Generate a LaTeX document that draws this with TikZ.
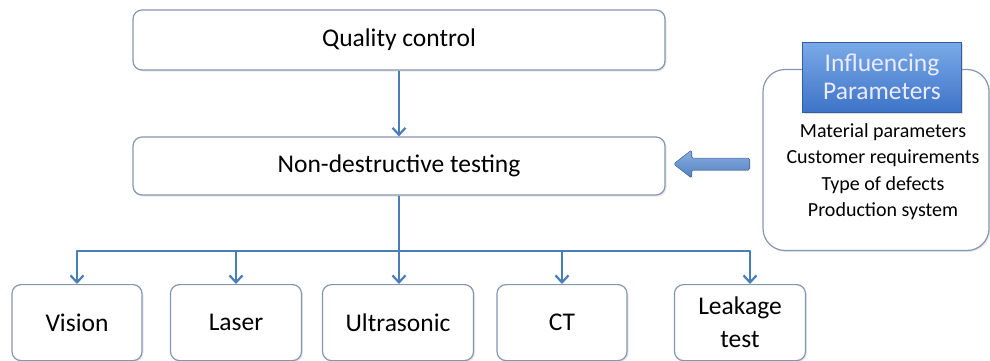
\documentclass[tikz,border=0pt]{standalone}
\usepackage{fontspec}
\setmainfont{Carlito}
\usetikzlibrary{arrows.meta,shadows}
\definecolor{linkblue}{HTML}{4A7EBB}
\definecolor{boxedge}{HTML}{8497B0}
\definecolor{headtop}{HTML}{7BAAE8}
\definecolor{headbot}{HTML}{3D74C8}
\definecolor{arrowblue}{HTML}{5A8ED6}
\begin{document}
\begin{tikzpicture}[x=1pt,y=-1pt,
  box/.style={draw=boxedge,line width=1.2pt,rounded corners=9pt,fill=white,
    drop shadow={opacity=0.18,shadow xshift=1.5pt,shadow yshift=-1.5pt},
    font=\fontsize{25.5}{33}\selectfont,align=center,inner sep=0pt},
  link/.style={draw=linkblue,line width=2.2pt,-{Straight Barb[length=7pt,width=13pt]}},
  bus/.style={draw=linkblue,line width=2.2pt}]
\useasboundingbox (0,0) rectangle (990,360);

% main chain
\node[box,minimum width=532pt,minimum height=60pt] (qc) at (399,40) {Quality control};
\node[box,minimum width=532pt,minimum height=58pt] (ndt) at (399,166) {Non-destructive testing};

% testing methods
\node[box,minimum width=130pt,minimum height=76pt,anchor=north] (vis) at (77,284) {Vision};
\node[box,minimum width=131pt,minimum height=76pt,anchor=north] (las) at (236,284) {Laser};
\node[box,minimum width=151pt,minimum height=76pt,anchor=north] (ult) at (398,284) {Ultrasonic};
\node[box,minimum width=130pt,minimum height=76pt,anchor=north] (ct) at (562,284) {CT};
\node[box,minimum width=131pt,minimum height=76pt,anchor=north] (lea) at (740,284) {Leakage\\test};

% influencing parameters panel
\node[box,minimum width=226pt,minimum height=181pt,rounded corners=22pt] (par) at (876,160) {};
\node[draw=headbot!80!black,line width=0.6pt,top color=headtop,bottom color=headbot,
  drop shadow={opacity=0.25,shadow xshift=1.5pt,shadow yshift=-1.5pt},
  text=white!92!blue,font=\fontsize{25.5}{28}\selectfont,align=center,
  minimum width=159pt,minimum height=70pt,inner sep=0pt] (head) at (882,77)
  {Influencing\\Parameters};
\node[font=\fontsize{20}{26.5}\selectfont,align=center,anchor=north] (plist) at (883,120)
  {Material parameters\\Customer requirements\\Type of defects\\Production system};

% block arrow pushing into the testing box
\coordinate (tip) at (ndt.east);
\fill[drop shadow={opacity=0.2,shadow xshift=1pt,shadow yshift=-1pt},
  top color=arrowblue!70!white,bottom color=arrowblue!90!black,draw=arrowblue!80!black,line width=0.5pt,
  rounded corners=1.5pt]
  ([xshift=8pt,yshift=2pt]tip) -- ++(18,-14) -- ++(0,8) -- ++(58,0) -- ++(0,12)
  -- ++(-58,0) -- ++(0,8) -- cycle;

% connectors
\draw[link] (qc.south) -- (ndt.north);
\coordinate (busL) at (77,251);
\coordinate (busR) at (750,251);
\coordinate (busM) at (399,251);
\draw[bus] (ndt.south) -- (busM);
\draw[bus,line cap=round] (busL) -- (busR);
\draw[link] (busL) -- (vis.north);
\draw[link] (236,251) -- (las.north);
\draw[link] (busM) -- (ult.north -| busM);
\draw[link] (562,251) -- (ct.north);
\draw[link] (busR) -- (lea.north -| busR);
\end{tikzpicture}
\end{document}
